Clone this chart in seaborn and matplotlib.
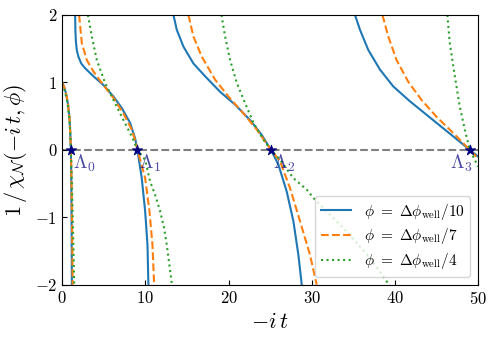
import numpy as np
import pandas as pd
import seaborn as sns
import matplotlib.pyplot as plt

nan = np.nan

# branches of each curve separated by nan
t_10 = [0, 0.25, 0.5, 0.7, 0.88, 0.98, 1.05, 1.1, 1.13, 1.15, 1.17, nan,
        1.56, 1.6, 1.66, 1.76, 1.96, 2.3, 2.76, 3.77, 4.97, 6.17, 7.17, 8.17, 8.77, 9.05, 9.57, 9.98, 10.26, 10.37, nan,
        13.38, 13.78, 14.58, 15.78, 17.19, 18.99, 20.79, 22.6, 24.0, 25.1, 26.0, 27.0, 27.8, 28.4, 28.8, nan,
        35.2, 35.8, 36.8, 38.2, 39.8, 41.8, 43.8, 45.8, 47.8, 49.0, 50.0]
y_10 = [1.0, 0.93, 0.82, 0.68, 0.48, 0.25, 0.0, -0.4, -0.9, -1.4, -2.0, nan,
        2.0, 1.75, 1.6, 1.48, 1.38, 1.28, 1.21, 1.09, 0.96, 0.79, 0.62, 0.40, 0.17, 0.0, -0.42, -0.91, -1.41, -2.0, nan,
        2.0, 1.78, 1.53, 1.28, 1.09, 0.86, 0.67, 0.44, 0.22, 0.0, -0.22, -0.62, -1.06, -1.56, -2.0, nan,
        2.0, 1.78, 1.48, 1.19, 0.94, 0.72, 0.52, 0.32, 0.12, 0.0, -0.1]

t_7 = [0, 0.25, 0.5, 0.7, 0.88, 0.98, 1.05, 1.12, 1.17, 1.22, 1.27, nan,
       2.04, 2.37, 2.97, 3.77, 4.77, 6.17, 7.37, 8.37, 8.8, 9.05, 9.5, 9.98, 10.5, 10.86, 11.06, nan,
       15.18, 15.78, 16.79, 18.39, 19.99, 21.79, 23.4, 25.1, 26.2, 27.4, 28.6, 29.8, 30.6, nan,
       38.5, 39.2, 40.2, 41.6, 43.2, 45.0, 47.0, 49.0, 50.0]
y_7 = [1.0, 0.93, 0.82, 0.68, 0.48, 0.25, 0.0, -0.4, -0.9, -1.4, -2.0, nan,
       2.0, 1.58, 1.33, 1.16, 0.99, 0.77, 0.54, 0.30, 0.13, 0.0, -0.2, -0.42, -0.91, -1.41, -2.0, nan,
       2.0, 1.68, 1.38, 1.04, 0.79, 0.54, 0.30, 0.0, -0.17, -0.57, -1.06, -1.56, -2.0, nan,
       2.0, 1.68, 1.33, 1.01, 0.74, 0.49, 0.25, 0.0, -0.13]

t_4 = [0, 0.25, 0.5, 0.7, 0.88, 0.98, 1.05, 1.15, 1.25, 1.35, 1.45, nan,
       3.1, 3.57, 4.17, 5.17, 6.17, 7.37, 8.37, 9.05, 9.98, 10.58, 11.18, 11.78, 12.26, 12.58, 13.2, nan,
       19.15, 19.59, 20.19, 21.0, 22.0, 23.0, 24.2, 25.1, 26.2, 27.8, 29.4, 30.4, 33.8, 37.0, 39.3, nan,
       46.3, 46.6, 47.2, 47.8, 48.4, 49.0, 50.0]
y_4 = [0.98, 0.9, 0.78, 0.64, 0.45, 0.24, 0.0, -0.4, -0.9, -1.4, -2.0, nan,
       2.0, 1.68, 1.33, 0.99, 0.74, 0.44, 0.2, 0.0, -0.15, -0.47, -0.67, -0.91, -1.16, -1.41, -2.0, nan,
       2.0, 1.68, 1.33, 0.99, 0.69, 0.40, 0.15, 0.0, -0.15, -0.42, -0.59, -0.74, -1.16, -1.6, -2.0, nan,
       2.0, 1.58, 1.09, 0.64, 0.30, 0.0, -0.25]

lam_t = [1.05, 9.05, 25.1, 49.0]
lam_names = [r'$\Lambda_0$', r'$\Lambda_1$', r'$\Lambda_2$', r'$\Lambda_3$']
phi_labels = [r'$\phi\ =\ \Delta\phi_{\rm well}/10$',
              r'$\phi\ =\ \Delta\phi_{\rm well}/7$',
              r'$\phi\ =\ \Delta\phi_{\rm well}/4$']

plt.rcParams['font.family'] = 'serif'
plt.rcParams['font.serif'] = ['cmr10', 'DejaVu Serif']
plt.rcParams['mathtext.fontset'] = 'cm'
plt.rcParams['axes.formatter.use_mathtext'] = True

frames = []
for lab, t, y in zip(phi_labels, [t_10, t_7, t_4], [y_10, y_7, y_4]):
    d = pd.DataFrame({'t': t, 'y': y})
    d['branch'] = d['y'].isna().cumsum()
    d = d.dropna()
    d['phi'] = lab
    frames.append(d)
df = pd.concat(frames, ignore_index=True)

fig, ax = plt.subplots(figsize=(4.97, 3.39), dpi=100)
fig.subplots_adjust(left=0.125, right=0.962, bottom=0.16, top=0.956)

ax.axhline(0, color='gray', ls='--', lw=1.5, zorder=1)

sns.lineplot(data=df, x='t', y='y', hue='phi', style='phi', units='branch',
             estimator=None, sort=False, hue_order=phi_labels, style_order=phi_labels,
             palette=sns.color_palette('tab10', 3),
             dashes={phi_labels[0]: '', phi_labels[1]: (3.7, 1.6), phi_labels[2]: (1, 1.65)},
             lw=1.5, ax=ax)

sns.scatterplot(x=lam_t, y=[0] * len(lam_t), marker='*', color='navy',
                edgecolor='navy', s=60, zorder=5, ax=ax)
for i, (t, name) in enumerate(zip(lam_t, lam_names)):
    if i == 3:
        ax.text(t + 0.3, -0.04, name, color='navy', alpha=0.7, fontsize=14, va='top', ha='right')
    else:
        ax.text(t + 0.2, -0.04, name, color='navy', alpha=0.7, fontsize=14, va='top', ha='left')

ax.set_xlim(0, 50)
ax.set_ylim(-2, 2)
ax.set_xticks([0, 10, 20, 30, 40, 50])
ax.set_yticks([-2, -1, 0, 1, 2])
ax.tick_params(direction='in', labelsize=12)
ax.set_xlabel(r'$-i\,t$', fontsize=16)
ax.set_ylabel(r'$1\,/\,\chi_\mathcal{N}(-i\,t, \phi)$', fontsize=16)

handles, labels = ax.get_legend_handles_labels()
keep = [(h, l) for h, l in zip(handles, labels) if l in phi_labels]
ax.legend([h for h, l in keep], [l for h, l in keep], loc='lower right',
          fontsize=11, labelspacing=0.3)

fig.savefig('out.png', dpi=100)
